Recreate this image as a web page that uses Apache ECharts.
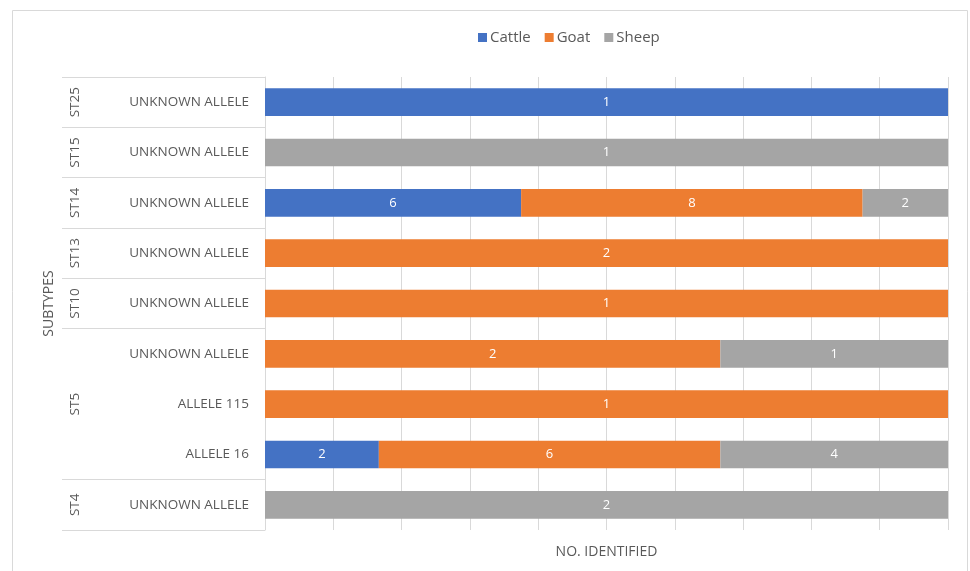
<!DOCTYPE html>
<html>
<head>
<meta charset="utf-8">
<script src="https://cdn.jsdelivr.net/npm/echarts@6/dist/echarts.min.js"></script>
<style>
html,body{margin:0;padding:0;background:#fff;}
#c{width:970px;height:571px;}
</style>
</head>
<body>
<div id="c"></div>
<script>
// ---- data ----
var subtypes = ['ST25', 'ST15', 'ST14', 'ST13', 'ST10', 'ST5', 'ST5', 'ST5', 'ST4'];
var alleles = ['UNKNOWN ALLELE', 'UNKNOWN ALLELE', 'UNKNOWN ALLELE', 'UNKNOWN ALLELE', 'UNKNOWN ALLELE', 'UNKNOWN ALLELE', 'ALLELE 115', 'ALLELE 16', 'UNKNOWN ALLELE'];
var cattle = [1, 0, 6, 0, 0, 0, 0, 2, 0];
var goat   = [0, 0, 8, 2, 1, 2, 1, 6, 0];
var sheep  = [0, 1, 2, 0, 0, 1, 0, 4, 2];
var seriesNames = ['Cattle', 'Goat', 'Sheep'];
var xTicks = [0, 10, 20, 30, 40, 50, 60, 70, 80, 90, 100];

var raw = [cattle, goat, sheep];
var colors = ['#4472C4', '#ED7D31', '#A5A5A5'];
var totals = alleles.map(function (_, i) { return cattle[i] + goat[i] + sheep[i]; });
var keys = alleles.map(function (a, i) { return i + '|' + a; });

// middle row of each subtype group gets the group label
var groupLabelIdx = {};
(function () {
  var i = 0;
  while (i < subtypes.length) {
    var j = i;
    while (j + 1 < subtypes.length && subtypes[j + 1] === subtypes[i]) j++;
    groupLabelIdx[Math.floor((i + j) / 2)] = true;
    i = j + 1;
  }
})();
// tick (boundary) index i lies between row i-1 and row i
function showBoundary(idx) {
  if (idx <= 0 || idx >= subtypes.length) return true;
  return subtypes[idx] !== subtypes[idx - 1];
}

var chart = echarts.init(document.getElementById('c'));
var font = '"Open Sans", "Noto Sans", sans-serif';

var series = raw.map(function (arr, s) {
  return {
    name: seriesNames[s],
    type: 'bar',
    stack: 'total',
    barCategoryGap: '45%',
    itemStyle: { color: colors[s] },
    label: {
      show: true,
      position: 'inside',
      color: '#ffffff',
      fontSize: 13,
      fontFamily: font,
      formatter: function (p) { return arr[p.dataIndex]; }
    },
    data: arr.map(function (v, i) { return v > 0 ? v / totals[i] * 100 : '-'; })
  };
});

chart.setOption({
  animation: false,
  textStyle: { fontFamily: font },
  graphic: [{
    type: 'rect',
    shape: { x: 12.5, y: 10.5, width: 955, height: 580 },
    style: { fill: 'none', stroke: '#d9d9d9', lineWidth: 1 },
    silent: true
  }],
  legend: {
    data: seriesNames,
    left: 478,
    top: 30,
    padding: 0,
    icon: 'rect',
    itemWidth: 9,
    itemHeight: 9,
    itemGap: 14,
    textStyle: { fontSize: 15, color: '#595959', fontFamily: font, padding: [0, 0, 0, -2] }
  },
  grid: { left: 265, right: 22, top: 77, bottom: 41, containLabel: false },
  xAxis: {
    type: 'value',
    min: xTicks[0],
    max: xTicks[xTicks.length - 1],
    interval: xTicks[1] - xTicks[0],
    axisLabel: { show: false },
    axisLine: { show: false },
    axisTick: { show: false },
    splitLine: { show: true, lineStyle: { color: '#d9d9d9', width: 1 } },
    name: 'NO. IDENTIFIED',
    nameLocation: 'middle',
    nameGap: 15,
    nameTextStyle: { fontSize: 14, color: '#595959', fontFamily: font }
  },
  yAxis: [{
    type: 'category',
    inverse: true,
    data: keys,
    axisLine: { show: true, lineStyle: { color: '#d9d9d9' } },
    axisTick: {
      show: true,
      length: 203,
      interval: function (idx) { return showBoundary(idx); },
      lineStyle: { color: '#d9d9d9' }
    },
    axisLabel: {
      interval: 0,
      margin: 16,
      color: '#595959',
      fontSize: 13.5,
      fontFamily: font,
      formatter: function (v) { return v.split('|')[1]; }
    }
  }, {
    type: 'category',
    inverse: true,
    position: 'left',
    offset: 177,
    data: keys.map(function (k, i) { return i + '|' + subtypes[i]; }),
    axisLine: { show: false },
    axisTick: { show: false },
    axisLabel: {
      interval: 0,
      rotate: 90,
      margin: 6,
      color: '#595959',
      fontSize: 13.5,
      fontFamily: font,
      formatter: function (v) {
        var parts = v.split('|');
        return groupLabelIdx[+parts[0]] ? parts[1] : '';
      }
    },
    name: 'SUBTYPES',
    nameLocation: 'middle',
    nameGap: 32,
    nameRotate: 90,
    nameTextStyle: { fontSize: 14, color: '#595959', fontFamily: font }
  }],
  series: series
});
</script>
</body>
</html>
